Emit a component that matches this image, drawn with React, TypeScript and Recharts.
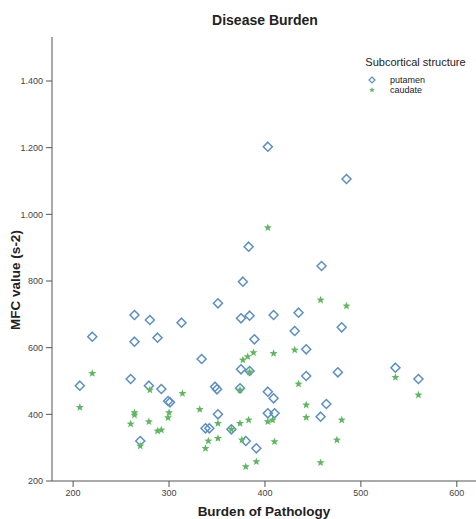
import React from 'react';
import { ScatterChart, Scatter, XAxis, YAxis, Legend } from 'recharts';

const chartTitle = 'Disease Burden';
const xTitle = 'Burden of Pathology';
const yTitle = 'MFC value (s-2)';
const legendTitle = 'Subcortical structure';
const seriesNames = ['putamen', 'caudate'];
const xTicks = [200, 300, 400, 500, 600];
const yTicks = [200, 400, 600, 800, 1000, 1200, 1400];

const putamenBurden = [220, 264, 280, 313, 264, 288, 207, 260, 279, 292, 299, 301, 270, 334, 351, 375, 384, 409, 435, 431, 389, 443, 375, 384, 443, 476, 348, 350, 374, 403, 409, 351, 403, 410, 464, 458, 338, 342, 365, 380, 391, 377, 383, 459, 403, 485, 480, 536, 560];
const putamenMFC = [633, 698, 683, 675, 618, 630, 486, 506, 486, 476, 440, 436, 320, 566, 733, 688, 696, 698, 705, 650, 625, 595, 535, 530, 515, 526, 483, 475, 478, 468, 448, 400, 403, 403, 431, 393, 358, 358, 355, 320, 298, 798, 903, 845, 1203, 1106, 661, 540, 506];

const caudateBurden = [220, 207, 314, 280, 264, 264, 260, 279, 300, 299, 288, 292, 270, 332, 377, 382, 388, 409, 431, 384, 435, 374, 383, 374, 403, 408, 443, 443, 351, 341, 351, 338, 376, 410, 391, 380, 458, 475, 458, 403, 485, 480, 536, 560, 365];
const caudateMFC = [523, 421, 463, 473, 405, 398, 371, 378, 405, 390, 350, 353, 305, 415, 563, 573, 585, 583, 593, 527, 491, 473, 383, 373, 378, 383, 428, 391, 373, 320, 328, 298, 323, 318, 258, 243, 255, 323, 743, 960, 725, 383, 511, 458, 355];

const putamenData = putamenBurden.map((x, i) => ({ x, y: putamenMFC[i] }));
const caudateData = caudateBurden.map((x, i) => ({ x, y: caudateMFC[i] }));

const BLUE = '#5b8fc4';
const GREEN = '#5fb860';
const FONT = '"Liberation Sans", Arial, sans-serif';

const diamondPath = (cx: number, cy: number, r: number) =>
  `M${cx},${cy - r}L${cx + r},${cy}L${cx},${cy + r}L${cx - r},${cy}Z`;

const starPath = (cx: number, cy: number, R: number, r: number) => {
  let d = '';
  for (let i = 0; i < 10; i++) {
    const rad = i % 2 === 0 ? R : r;
    const a = -Math.PI / 2 + (i * Math.PI) / 5;
    d += `${i === 0 ? 'M' : 'L'}${cx + rad * Math.cos(a)},${cy + rad * Math.sin(a)}`;
  }
  return d + 'Z';
};

const DiamondShape = (props: any) => {
  const { cx, cy } = props;
  if (cx == null || cy == null) return null;
  return <path d={diamondPath(cx, cy, 4.5)} fill="none" stroke={BLUE} strokeWidth={1.5} />;
};

const StarShape = (props: any) => {
  const { cx, cy } = props;
  if (cx == null || cy == null) return null;
  return <path d={starPath(cx, cy, 4.2, 1.8)} fill={GREEN} stroke="none" />;
};

const fmtY = (v: number) =>
  v >= 1000 ? `${Math.floor(v / 1000)}.${String(v % 1000).padStart(3, '0')}` : String(v);

const LegendContent = (props: any) => {
  const payload = [...(props.payload || [])].sort(
    (a: any, b: any) => seriesNames.indexOf(a.value) - seriesNames.indexOf(b.value)
  );
  return (
    <div style={{ fontFamily: FONT, color: '#222' }}>
      <div style={{ fontSize: 11, lineHeight: '13px', textAlign: 'center' }}>{legendTitle}</div>
      <div style={{ marginTop: 6 }}>
        {payload.map((e: any, i: number) => (
          <div key={i} style={{ display: 'flex', alignItems: 'center', height: 10, fontSize: 9 }}>
            <svg width={32} height={10}>
              {e.value === seriesNames[0] ? (
                <path d={diamondPath(14, 5, 3)} fill="none" stroke={BLUE} strokeWidth={1.2} />
              ) : (
                <path d={starPath(14, 5, 3, 1.3)} fill={GREEN} />
              )}
            </svg>
            <span style={{ lineHeight: '10px' }}>{e.value}</span>
          </div>
        ))}
      </div>
    </div>
  );
};

export default function App() {
  return (
    <div style={{ position: 'absolute', left: 0, top: 0, width: 476, height: 519, background: '#fff' }}>
      <div
        style={{
          position: 'absolute',
          top: 11,
          left: 165,
          width: 200,
          textAlign: 'center',
          fontFamily: FONT,
          fontWeight: 'bold',
          fontSize: 14,
          lineHeight: '18px',
          color: '#222',
        }}
      >
        {chartTitle}
      </div>
      <ScatterChart width={476} height={519} margin={{ top: 37, right: 0, bottom: 0, left: 0 }}>
        <XAxis
          dataKey="x"
          type="number"
          domain={[178, 620]}
          ticks={xTicks}
          allowDataOverflow
          height={38}
          tickSize={6}
          tickMargin={3}
          stroke="#555"
          tick={{ fill: '#444', fontSize: 9, fontFamily: FONT }}
          label={() => (
            <text x={264} y={511} textAnchor="middle" dominantBaseline="central" fontFamily={FONT} fontWeight="bold" fontSize={13.5} fill="#222">
              {xTitle}
            </text>
          )}
        />
        <YAxis
          dataKey="y"
          type="number"
          domain={[200, 1532]}
          ticks={yTicks}
          allowDataOverflow
          width={52}
          tickSize={6}
          tickMargin={3}
          stroke="#555"
          tickFormatter={fmtY}
          tick={{ fill: '#444', fontSize: 9, fontFamily: FONT }}
          label={() => (
            <text x={15} y={280} transform="rotate(-90 15 280)" textAnchor="middle" dominantBaseline="central" fontFamily={FONT} fontWeight="bold" fontSize={13.5} fill="#222">
              {yTitle}
            </text>
          )}
        />
        <Legend
          layout="vertical"
          align="center"
          verticalAlign="middle"
          content={<LegendContent />}
          wrapperStyle={{ top: 56, left: 358, width: 115, height: 40 }}
        />
        <Scatter name={seriesNames[0]} data={putamenData} fill={BLUE} shape={<DiamondShape />} isAnimationActive={false} />
        <Scatter name={seriesNames[1]} data={caudateData} fill={GREEN} shape={<StarShape />} isAnimationActive={false} />
      </ScatterChart>
    </div>
  );
}
